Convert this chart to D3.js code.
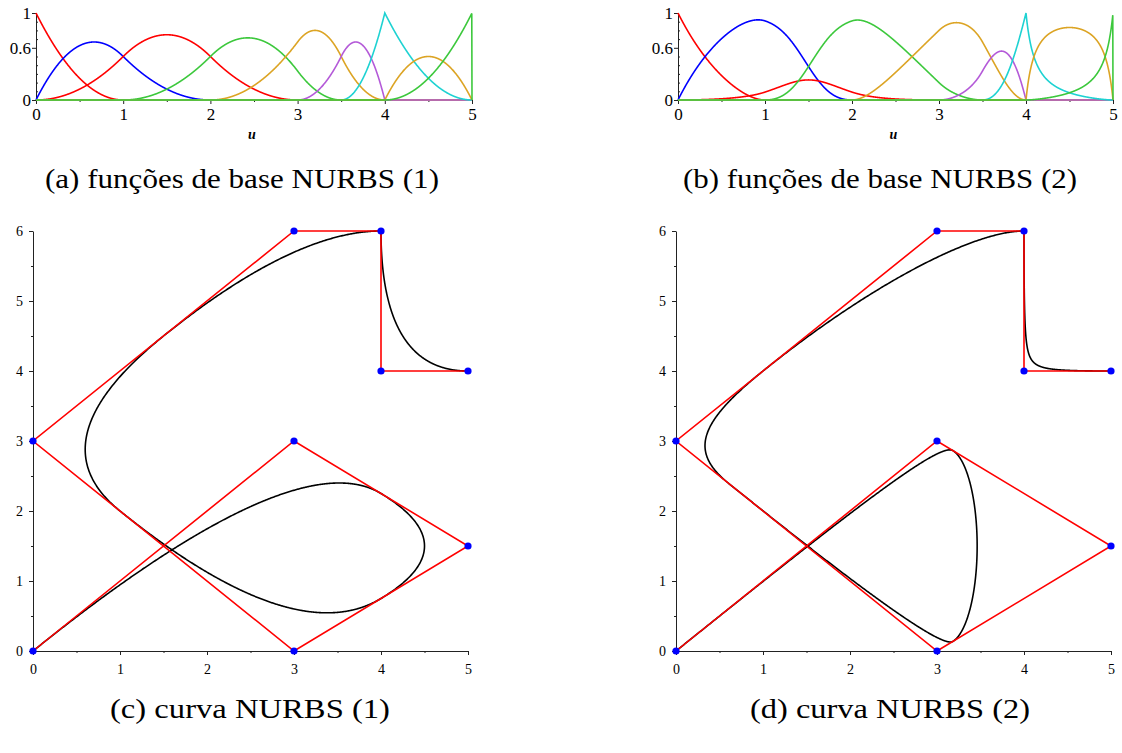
<!DOCTYPE html>
<html><head><meta charset="utf-8">
<script src="https://cdn.jsdelivr.net/npm/d3@7"></script>
<style>body{margin:0;background:#fff} svg{display:block} text{font-family:'Liberation Serif','Times New Roman',serif}</style>
</head><body>
<svg id="chart" width="1122" height="753"></svg>
<script>
// ---- data ----
const knots = [0, 0, 0, 1, 2, 3, 3.5, 4, 4, 5, 5, 5];   // quadratic knot vector
const degree = 2;
const controlX = [0, 3, 5, 3, 0, 3, 4, 4, 5];
const controlY = [0, 3, 1.5, 0, 3, 6, 6, 4, 4];
const weights1 = [1, 1, 1, 1, 1, 1, 1, 1, 1];
const weights2 = [1, 1, 0.1, 1, 2, 1, 1, 5, 1];
const basisColors = ["#ff0000", "#0000ff", "#ff0000", "#3cc83c", "#dca424", "#b45ad8", "#1ed2d2", "#dca424", "#3cc83c"];
const basisXTicks = [0, 1, 2, 3, 4, 5];
const basisXMinor = [0.5, 1.5, 2.5, 3.5, 4.5];
const basisYTicks = [0, 0.6, 1];
const basisYMinor = [0.1, 0.2, 0.3, 0.4, 0.5, 0.7, 0.8, 0.9];
const curveXTicks = [0, 1, 2, 3, 4, 5];
const curveXMinor = [0.5, 1.5, 2.5, 3.5, 4.5];
const curveYTicks = [0, 1, 2, 3, 4, 5, 6];
const curveYMinor = [0.5, 1.5, 2.5, 3.5, 4.5, 5.5];
const captions = ["(a) funções de base NURBS (1)", "(b) funções de base NURBS (2)",
                  "(c) curva NURBS (1)", "(d) curva NURBS (2)"];
const axisLabel = "u";

// ---- NURBS evaluation (Cox–de Boor) ----
const nCtrl = controlX.length;
function N(i, p, u) {
  if (p === 0) return (knots[i] <= u && u < knots[i + 1]) ? 1 : 0;
  let a = 0, b = 0;
  const d1 = knots[i + p] - knots[i], d2 = knots[i + p + 1] - knots[i + 1];
  if (d1 > 0) a = (u - knots[i]) / d1 * N(i, p - 1, u);
  if (d2 > 0) b = (knots[i + p + 1] - u) / d2 * N(i + 1, p - 1, u);
  return a + b;
}
function R(i, u, w) {
  let s = 0;
  for (let j = 0; j < nCtrl; j++) s += w[j] * N(j, degree, u);
  return s > 0 ? w[i] * N(i, degree, u) / s : 0;
}
const uGrid = d3.range(0, 2001).map(k => k * 5 / 2000);

const svg = d3.select("#chart");
const serif = "'Liberation Serif', 'Times New Roman', serif";

function styleAxis(g, size) {
  g.attr("font-family", serif).style("font-family", serif);
  g.selectAll("path.domain").attr("stroke", "#222").attr("stroke-width", 1);
  g.selectAll(".tick line").attr("stroke", "#222").attr("stroke-width", 1);
  g.selectAll(".tick text").style("font-family", serif).style("font-size", size + "px").attr("fill", "#000");
}

// ---- top panels: basis functions ----
function basisPanel(x0, x1, w) {
  const x = d3.scaleLinear().domain([0, 5]).range([x0, x1]);
  const y = d3.scaleLinear().domain([0, 1]).range([100, 13]);
  const g = svg.append("g");
  const gx = g.append("g").attr("transform", "translate(0,100)")
    .call(d3.axisBottom(x).tickValues(basisXTicks).tickSize(4).tickSizeOuter(0).tickPadding(4).tickFormat(d3.format("d")));
  styleAxis(gx, 17);
  const gxm = g.append("g").attr("transform", "translate(0,100)")
    .call(d3.axisBottom(x).tickValues(basisXMinor).tickSize(2).tickFormat(""));
  gxm.select("path.domain").remove(); styleAxis(gxm, 17);
  const gy = g.append("g").attr("transform", `translate(${x0},0)`)
    .call(d3.axisLeft(y).tickValues(basisYTicks).tickSize(4).tickSizeOuter(0).tickPadding(1).tickFormat(d => String(d)));
  styleAxis(gy, 17);
  const gym = g.append("g").attr("transform", `translate(${x0},0)`)
    .call(d3.axisRight(y).tickValues(basisYMinor).tickSize(2).tickFormat(""));
  gym.select("path.domain").remove(); styleAxis(gym, 17);

  const line = d3.line().x(d => x(d[0])).y(d => y(d[1]));
  for (let i = 0; i < nCtrl; i++) {
    const pts = uGrid.map(u => [u, R(i, u, w)]);
    g.append("path").attr("d", line(pts)).attr("fill", "none")
      .attr("stroke", basisColors[i]).attr("stroke-width", 1.6);
  }
  g.append("text").attr("x", x(2.5) - 2).attr("y", 139).attr("text-anchor", "middle")
    .style("font-family", serif).attr("font-style", "italic").attr("font-weight", "bold")
    .attr("font-size", 14).text(axisLabel);
}
basisPanel(36, 472, weights1);
basisPanel(678, 1113, weights2);

// ---- bottom panels: curves ----
function curvePanel(x0, x1, w) {
  const x = d3.scaleLinear().domain([0, 5]).range([x0, x1]);
  const y = d3.scaleLinear().domain([0, 6]).range([651, 231]);
  const g = svg.append("g");
  const gx = g.append("g").attr("transform", "translate(0,651)")
    .call(d3.axisBottom(x).tickValues(curveXTicks).tickSize(4).tickSizeOuter(0).tickPadding(9).tickFormat(d3.format("d")));
  styleAxis(gx, 14);
  const gxm = g.append("g").attr("transform", "translate(0,651)")
    .call(d3.axisBottom(x).tickValues(curveXMinor).tickSize(2).tickFormat(""));
  gxm.select("path.domain").remove(); styleAxis(gxm, 14);
  const gy = g.append("g").attr("transform", `translate(${x0},0)`)
    .call(d3.axisLeft(y).tickValues(curveYTicks).tickSize(4).tickSizeOuter(0).tickPadding(6).tickFormat(d3.format("d")));
  styleAxis(gy, 14);
  const gym = g.append("g").attr("transform", `translate(${x0},0)`)
    .call(d3.axisLeft(y).tickValues(curveYMinor).tickSize(2).tickFormat(""));
  gym.select("path.domain").remove(); styleAxis(gym, 14);

  const line = d3.line().x(d => x(d[0])).y(d => y(d[1]));
  const pts = uGrid.filter(u => u < 5).map(u => {
    let px = 0, py = 0;
    for (let i = 0; i < nCtrl; i++) { const r = R(i, u, w); px += r * controlX[i]; py += r * controlY[i]; }
    return [px, py];
  });
  pts.push([controlX[nCtrl - 1], controlY[nCtrl - 1]]);
  g.append("path").attr("d", line(pts)).attr("fill", "none").attr("stroke", "#000").attr("stroke-width", 1.6);
  const poly = controlX.map((cx, i) => [cx, controlY[i]]);
  g.append("path").attr("d", line(poly)).attr("fill", "none").attr("stroke", "#ff0000").attr("stroke-width", 1.6);
  g.selectAll("circle.pt").data(poly).join("circle").attr("class", "pt")
    .attr("cx", d => x(d[0])).attr("cy", d => y(d[1])).attr("r", 3.6).attr("fill", "#0000ff");
}
curvePanel(33, 468, weights1);
curvePanel(676, 1111, weights2);

// ---- captions ----
const capPos = [[242, 188, 394], [880, 188, 394], [250, 718, 280], [890, 718, 280]];
captions.forEach((c, i) => {
  svg.append("text").attr("x", capPos[i][0]).attr("y", capPos[i][1]).attr("text-anchor", "middle")
    .style("font-family", serif).attr("font-size", 28).attr("fill", "#000")
    .attr("textLength", capPos[i][2]).attr("lengthAdjust", "spacingAndGlyphs").text(c);
});
</script>
</body></html>
